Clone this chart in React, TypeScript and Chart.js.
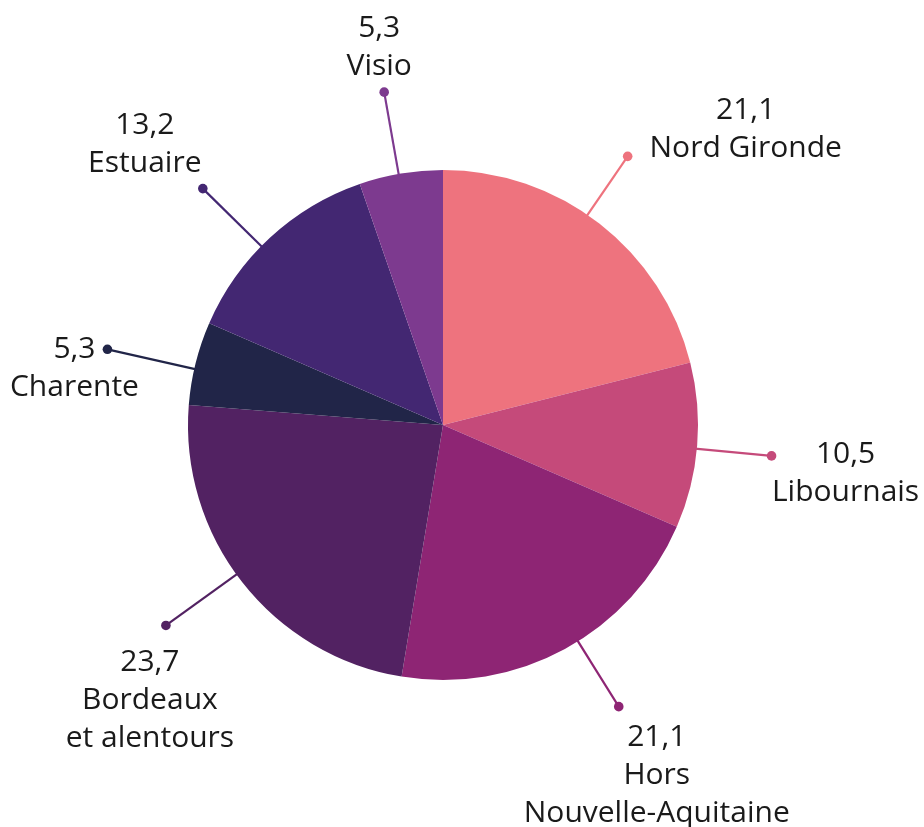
import React, { useEffect, useRef } from "react";
import { Chart, registerables } from "chart.js";

Chart.register(...registerables);

const categories = [
  ["Nord Gironde"],
  ["Libournais"],
  ["Hors", "Nouvelle-Aquitaine"],
  ["Bordeaux", "et alentours"],
  ["Charente"],
  ["Estuaire"],
  ["Visio"],
];
const values = [21.1, 10.5, 21.1, 23.7, 5.3, 13.2, 5.3];
const valueLabels = ["21,1", "10,5", "21,1", "23,7", "5,3", "13,2", "5,3"];
const colors = ["#EE737E", "#C54A7A", "#8E2574", "#522262", "#212548", "#432772", "#7D3A8F"];

// leader layout: [angle shift from slice middle (deg), length beyond the rim (px)]
const leaderLayout: [number, number][] = [
  [-3.4, 71],
  [0.7, 75],
  [-3.4, 77],
  [2.2, 87],
  [-1.3, 89],
  [-2.7, 82],
  [-0.5, 83],
];
// label block offsets relative to the leader-line dot: [dx of text centre, dy of first line centre]
const labelOffsets: [number, number][] = [
  [118, -46],
  [74, -1],
  [38, 31],
  [-16, 37],
  [-33, 0],
  [-58, -63],
  [-5, -64],
];
const LINE_H = 38;
const FONT = "30px 'Open Sans', sans-serif";

const leaderPlugin = {
  id: "leaders",
  afterDatasetsDraw(chart: any) {
    const ctx = chart.ctx;
    const meta = chart.getDatasetMeta(0);
    meta.data.forEach((arc: any, i: number) => {
      const { x, y, startAngle, endAngle, outerRadius } = arc.getProps(
        ["x", "y", "startAngle", "endAngle", "outerRadius"],
        true
      );
      const [shift, len] = leaderLayout[i];
      const mid = (startAngle + endAngle) / 2 + (shift * Math.PI) / 180;
      const x0 = x + Math.cos(mid) * (outerRadius - 2);
      const y0 = y + Math.sin(mid) * (outerRadius - 2);
      const x1 = x + Math.cos(mid) * (outerRadius + len);
      const y1 = y + Math.sin(mid) * (outerRadius + len);
      ctx.save();
      ctx.strokeStyle = colors[i];
      ctx.lineWidth = 2.2;
      ctx.beginPath();
      ctx.moveTo(x0, y0);
      ctx.lineTo(x1, y1);
      ctx.stroke();
      ctx.fillStyle = colors[i];
      ctx.beginPath();
      ctx.arc(x1, y1, 4.8, 0, Math.PI * 2);
      ctx.fill();
      const lines = [valueLabels[i], ...categories[i]];
      const [dx, dy] = labelOffsets[i];
      ctx.fillStyle = "#1a1a1a";
      ctx.font = FONT;
      ctx.textAlign = "center";
      ctx.textBaseline = "middle";
      lines.forEach((t, k) => {
        ctx.fillText(t, x1 + dx, y1 + dy + k * LINE_H);
      });
      ctx.restore();
    });
  },
};

export default function App() {
  const ref = useRef<HTMLCanvasElement>(null);
  useEffect(() => {
    if (!ref.current) return;
    const chart = new Chart(ref.current, {
      type: "pie",
      data: {
        labels: categories.map((c) => c.join(" ")),
        datasets: [
          {
            data: values,
            backgroundColor: colors,
            borderWidth: 0,
          },
        ],
      },
      options: {
        responsive: false,
        animation: false,
        layout: { padding: { left: 188, right: 226, top: 170, bottom: 147 } },
        plugins: {
          legend: { display: false },
          tooltip: { enabled: false },
        },
      },
      plugins: [leaderPlugin],
    });
    return () => chart.destroy();
  }, []);
  return (
    <div style={{ position: "fixed", left: 0, top: 0, width: 924, height: 827, background: "#fff" }}>
      <canvas ref={ref} width={924} height={827} style={{ display: "block" }} />
    </div>
  );
}
